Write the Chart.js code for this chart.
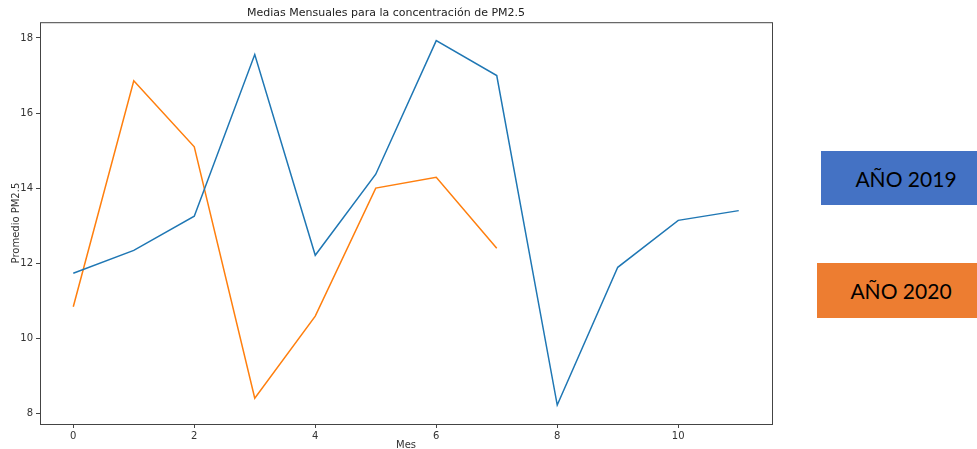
<!DOCTYPE html>
<html>
<head>
<meta charset="utf-8">
<script src="https://cdn.jsdelivr.net/npm/chart.js@4"></script>
<style>
  body { margin: 0; background: #fff; }
  #wrap { position: relative; width: 977px; height: 449px; overflow: hidden; }
  #chart { position: absolute; left: 0; top: 0; }
  .box {
    position: absolute;
    display: flex; align-items: center; justify-content: center;
    font-family: Lato, "Open Sans", sans-serif;
    font-size: 21px; color: #000;
  }
  #b2019 { left: 821px; top: 151px; width: 142px; height: 54px; padding-left: 14px; background: #4472c4; }
  #b2020 { left: 817px; top: 263px; width: 152px; height: 55px; padding-left: 8px; background: #ed7d31; }
</style>
</head>
<body>
<div id="wrap">
  <canvas id="chart" width="780" height="449"></canvas>
  <div class="box" id="b2019">AÑO 2019</div>
  <div class="box" id="b2020">AÑO 2020</div>
</div>
<script>
// Meses (índice 0..11)
const meses2019 = [0, 1, 2, 3, 4, 5, 6, 7, 8, 9, 10, 11];
const pm2019 = [11.73, 12.34, 13.25, 17.56, 12.21, 14.37, 17.93, 17.0, 8.22, 11.89, 13.14, 13.4];
const meses2020 = [0, 1, 2, 3, 4, 5, 6, 7];
const pm2020 = [10.84, 16.86, 15.1, 8.4, 10.59, 14.0, 14.29, 12.4];

// Etiquetas de los ejes
const xTicks = [0, 2, 4, 6, 8, 10];
const yTicks = [8, 10, 12, 14, 16, 18];

const toPoints = (xs, ys) => xs.map((x, i) => ({ x: x, y: ys[i] }));

// Marco completo alrededor del área del gráfico (estilo matplotlib)
const framePlugin = {
    id: 'frame',
    afterDraw(chart) {
        const a = chart.chartArea;
        const c = chart.ctx;
        c.save();
        c.strokeStyle = '#444';
        c.lineWidth = 1;
        c.strokeRect(a.left + 0.5, a.top + 0.5, a.right - a.left, a.bottom - a.top);
        c.restore();
    }
};

const tickFont = { family: "'DejaVu Sans', sans-serif", size: 10 };

new Chart(document.getElementById('chart'), {
    type: 'line',
    data: {
        datasets: [{
            label: '2019',
            data: toPoints(meses2019, pm2019),
            borderColor: '#1f77b4',
            borderWidth: 1.5,
            pointRadius: 0,
            tension: 0
        }, {
            label: '2020',
            data: toPoints(meses2020, pm2020),
            borderColor: '#ff7f0e',
            borderWidth: 1.5,
            pointRadius: 0,
            tension: 0
        }]
    },
    options: {
        responsive: false,
        animation: false,
        layout: { padding: { left: 0, right: 8, top: 0, bottom: 0 } },
        plugins: {
            legend: { display: false },
            tooltip: { enabled: false },
            title: {
                display: true,
                text: 'Medias Mensuales para la concentración de PM2.5',
                color: '#222',
                font: { family: "'DejaVu Sans', sans-serif", size: 11, weight: 'normal' },
                padding: { top: 7, bottom: 2 }
            }
        },
        scales: {
            x: {
                type: 'linear',
                min: -0.55,
                max: 11.55,
                afterBuildTicks: s => { s.ticks = xTicks.map(v => ({ value: v })); },
                afterFit: s => { s.height = 25; },
                grid: { drawOnChartArea: false, tickLength: 4, color: '#444' },
                border: { display: false },
                ticks: { color: '#333', font: tickFont, padding: 2, maxRotation: 0 },
                title: {
                    display: true,
                    text: 'Mes',
                    color: '#333',
                    font: tickFont,
                    padding: { top: 0, bottom: -2 }
                }
            },
            y: {
                min: 7.715,
                max: 18.42,
                afterBuildTicks: s => { s.ticks = yTicks.map(v => ({ value: v })); },
                afterFit: s => { s.width = 40; },
                grid: { drawOnChartArea: false, tickLength: 4, color: '#444' },
                border: { display: false },
                ticks: { color: '#333', font: tickFont, padding: 3 },
                title: {
                    display: true,
                    text: 'Promedio PM2.5',
                    color: '#333',
                    font: tickFont,
                    padding: { top: 10, bottom: 0 }
                }
            }
        }
    },
    plugins: [framePlugin]
});
</script>
</body>
</html>
